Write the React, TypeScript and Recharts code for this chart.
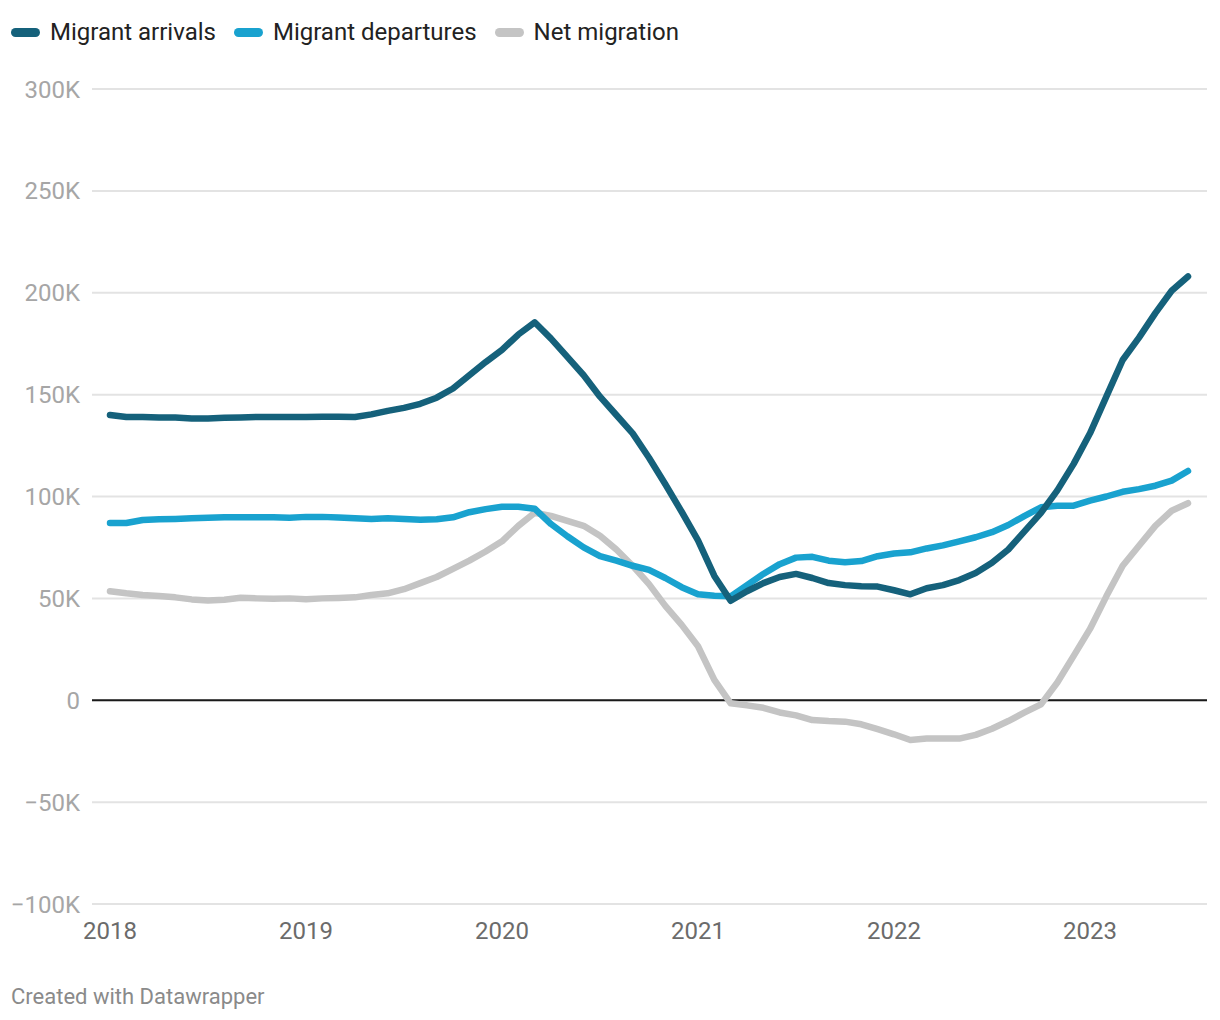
import React from "react";
import {
  LineChart,
  Line,
  XAxis,
  YAxis,
  CartesianGrid,
  ReferenceLine
} from "recharts";

// monthly, Jan 2018 – Jul 2023, values in thousands
const arrivals = [
  140, 139, 139, 138.8, 138.8, 138.3, 138.3, 138.6, 138.8, 139, 139, 139,
  139, 139.2, 139.1, 139, 140.3, 142, 143.5, 145.5, 148.5, 153, 159.5, 166,
  172, 179.5, 185.5, 177.5, 168.5, 159.5, 149, 140, 131, 119, 106, 92.5,
  78.5, 61, 48.8, 53.5, 57.5, 60.5, 62, 60, 57.5, 56.5, 56, 55.8,
  54, 52, 55, 56.5, 59, 62.5, 67.5, 74, 83, 92, 103, 116,
  131, 149, 167, 178, 190, 201, 208
];

const departures = [
  87, 87, 88.5, 88.8, 89, 89.3, 89.6, 89.8, 89.8, 89.8, 89.8, 89.6,
  90, 90, 89.7, 89.3, 89, 89.3, 89, 88.6, 88.8, 89.8, 92.3, 93.8,
  95, 95, 94, 86.5, 80.5, 75, 70.7, 68.5, 66, 64, 60, 55.5,
  52, 51.3, 51, 56.5, 62, 66.8, 70, 70.4, 68.5, 67.7, 68.3, 70.7,
  72, 72.6, 74.5, 76, 78, 80, 82.5, 86, 90.5, 94.7, 95.5, 95.5,
  98, 100, 102.3, 103.6, 105.3, 107.8, 112.5
];

const netMigration = [
  53.5, 52.5, 51.7, 51.2, 50.5, 49.5, 49, 49.3, 50.3, 50, 49.8, 50,
  49.6, 50, 50.2, 50.5, 51.7, 52.5, 54.5, 57.5, 60.5, 64.5, 68.5, 73,
  78, 85.6, 92, 90.5, 88, 85.6, 80.7, 74, 66, 57, 46.3, 37,
  26.5, 10, -1.5, -2.5, -3.7, -6, -7.4, -9.7, -10.2, -10.5, -11.8, -14.2,
  -16.7, -19.5, -18.8, -18.8, -18.8, -17, -14, -10.2, -6, -2, 8.7, 21.8,
  35, 51, 66, 75.8, 85.6, 93, 96.7
];

const yearTicks = [0, 12, 24, 36, 48, 60];
const yearLabels = ["2018", "2019", "2020", "2021", "2022", "2023"];
const valueTicks = [-100, -50, 0, 50, 100, 150, 200, 250, 300];

const series = [
  { key: "arrivals", name: "Migrant arrivals", color: "#15617b" },
  { key: "departures", name: "Migrant departures", color: "#19a2cf" },
  { key: "net", name: "Net migration", color: "#c4c4c4" }
];

const data = arrivals.map((a, i) => ({
  month: i,
  arrivals: a,
  departures: departures[i],
  net: netMigration[i]
}));

const fontFamily = "Roboto, 'Noto Sans', sans-serif";

const fmtValue = (v: number) => {
  if (v === 0) return "0";
  return (v < 0 ? "\u2212" : "") + Math.abs(v) + "K";
};

const fmtYear = (v: number) => yearLabels[yearTicks.indexOf(v)] ?? "";

function LegendRow() {
  return (
    <div
      style={{
        position: "absolute",
        left: 11,
        top: 17,
        display: "flex",
        alignItems: "center",
        fontFamily,
        fontSize: 24,
        color: "#222",
        lineHeight: "30px"
      }}
    >
      {series.map((s) => (
        <div key={s.key} style={{ display: "flex", alignItems: "center", marginRight: 18 }}>
          <span
            style={{
              display: "inline-block",
              width: 29,
              height: 9,
              borderRadius: 5,
              background: s.color,
              marginRight: 10
            }}
          />
          <span>{s.name}</span>
        </div>
      ))}
    </div>
  );
}

export default function App() {
  return (
    <div style={{ position: "absolute", left: 0, top: 0, width: 1220, height: 1020, background: "#fff" }}>
      <LineChart
        width={1220}
        height={1020}
        data={data}
        margin={{ top: 89, right: 13, bottom: 76, left: 0 }}
      >
        <CartesianGrid vertical={false} stroke="#e3e3e3" strokeWidth={2} />
        <XAxis
          dataKey="month"
          type="number"
          domain={[0, 66]}
          ticks={yearTicks}
          tickFormatter={fmtYear}
          padding={{ left: 18, right: 19 }}
          axisLine={false}
          tickLine={false}
          tickSize={6}
          tickMargin={12}
          height={40}
          tick={{ fill: "#6b6b6b", fontSize: 24, fontFamily }}
        />
        <YAxis
          type="number"
          domain={[-100, 300]}
          ticks={valueTicks}
          tickFormatter={fmtValue}
          axisLine={false}
          tickLine={false}
          width={92}
          tickSize={6}
          tickMargin={6}
          tick={{ fill: "#a6a6a6", fontSize: 24, fontFamily }}
        />
        <ReferenceLine y={0} stroke="#1a1a1a" strokeWidth={2} />
        {series
          .slice()
          .reverse()
          .map((s) => (
            <Line
              key={s.key}
              dataKey={s.key}
              name={s.name}
              type="linear"
              stroke={s.color}
              strokeWidth={6.5}
              strokeLinecap="round"
              strokeLinejoin="round"
              dot={false}
              activeDot={false}
              isAnimationActive={false}
            />
          ))}
      </LineChart>
      <LegendRow />
      <div
        style={{
          position: "absolute",
          left: 11,
          top: 984,
          fontFamily,
          fontSize: 22,
          color: "#8a8a8a"
        }}
      >
        Created with Datawrapper
      </div>
    </div>
  );
}
